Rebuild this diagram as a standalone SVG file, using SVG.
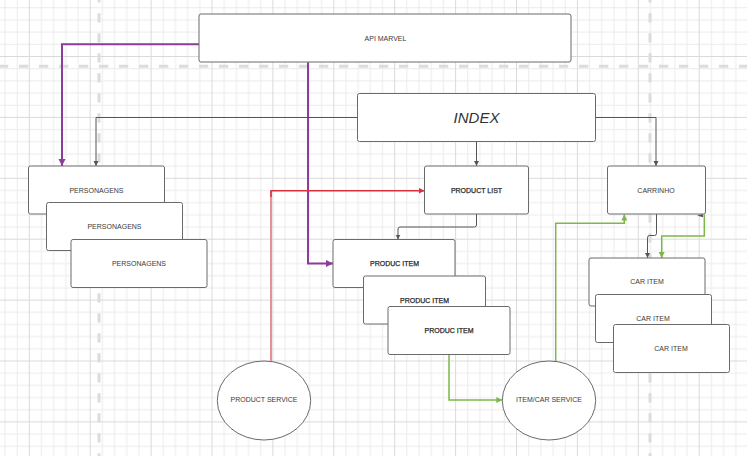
<svg xmlns="http://www.w3.org/2000/svg" width="747" height="456" viewBox="0 0 747 456">
<style>
.node rect,.node ellipse{fill:#fff;stroke:#6a6a6a;stroke-width:1}
.lbl{font-family:"Liberation Sans",Arial,sans-serif;font-size:7px;fill:#3a3a3a;text-anchor:middle}
.b{fill:#2a2a2a;stroke:#2a2a2a;stroke-width:0.25}
.big{font-size:15px;font-style:italic;fill:#333}
.c{fill:none}
.gray{stroke:#555;stroke-width:1}
.purple{stroke:#8a3d99;stroke-width:2}
.green{stroke:#7cb848;stroke-width:1.5}
.red{stroke:#d8303c;stroke-width:1.5}
.pink{stroke:#e8909a;stroke-width:2}
.dash{fill:none;stroke:#dcdcdc;stroke-width:3;stroke-dasharray:9.3 10.7}
</style>
<defs>
<pattern id="grid" patternUnits="userSpaceOnUse" x="28.8" y="56" width="60.9" height="60.9">
<rect x="12.18" y="0" width="1" height="60.9" fill="#ebebeb"/>
<rect x="24.36" y="0" width="1" height="60.9" fill="#ebebeb"/>
<rect x="36.54" y="0" width="1" height="60.9" fill="#ebebeb"/>
<rect x="48.72" y="0" width="1" height="60.9" fill="#ebebeb"/>
<rect x="0" y="12.18" width="60.9" height="1" fill="#ebebeb"/>
<rect x="0" y="24.36" width="60.9" height="1" fill="#ebebeb"/>
<rect x="0" y="36.54" width="60.9" height="1" fill="#ebebeb"/>
<rect x="0" y="48.72" width="60.9" height="1" fill="#ebebeb"/>
<rect x="0" y="0" width="1" height="60.9" fill="#dadada"/>
<rect x="0" y="0" width="60.9" height="1" fill="#dadada"/>
</pattern>
<marker id="aGray" markerUnits="userSpaceOnUse" markerWidth="6" markerHeight="6" refX="5" refY="2.5" orient="auto"><path d="M0,0 L5,2.5 L0,5 z" fill="#555"/></marker>
<marker id="aPurple" markerUnits="userSpaceOnUse" markerWidth="8" markerHeight="8" refX="7" refY="3.5" orient="auto"><path d="M0,0 L7,3.5 L0,7 z" fill="#8a3d99"/></marker>
<marker id="aGreen" markerUnits="userSpaceOnUse" markerWidth="8" markerHeight="8" refX="6" refY="3" orient="auto"><path d="M0,0 L6,3 L0,6 z" fill="#7cb848"/></marker>
<marker id="aRed" markerUnits="userSpaceOnUse" markerWidth="8" markerHeight="8" refX="6" refY="3" orient="auto"><path d="M0,0 L6,3 L0,6 z" fill="#d8303c"/></marker>
</defs>
<rect width="747" height="456" fill="#fff"/>
<rect width="747" height="456" fill="url(#grid)"/>
<g id="guides">
<path class="dash" d="M-1,66.3 H747"/>
<path class="dash" d="M99,-6.7 V456"/>
<path class="dash" d="M650,-6.7 V456"/>
</g>
<g id="connectors">
<path class="c purple" d="M199,44.3 H62 V166" marker-end="url(#aPurple)"/>
<path class="c purple" d="M308,62.3 V263.5 H333" marker-end="url(#aPurple)"/>
<path class="c gray" d="M357.5,117.5 H96 V166" marker-end="url(#aGray)"/>
<path class="c gray" d="M476.5,141.5 V166" marker-end="url(#aGray)"/>
<path class="c gray" d="M595.5,117.5 H656 V166" marker-end="url(#aGray)"/>
<path class="c gray" d="M476.5,214 V225 Q476.5,227 474.5,227 H400 Q398,227 398,229 V239.5" marker-end="url(#aGray)"/>
<path class="c gray" d="M656.5,214 V233.5 Q656.5,235.5 654.5,235.5 H649.5 Q647.5,235.5 647.5,237.5 V258" marker-end="url(#aGray)"/>
<path class="c green" d="M555.7,361 V223.3 H624.3 V214.5" marker-end="url(#aGreen)"/>
<path class="c green" d="M704.3,214.5 V236 H661.7 V258" marker-end="url(#aGreen)"/>
<path d="M697,215.6 L703,214 L703,217.2 z" fill="#555"/>
<path class="c green" d="M449,354.5 V400 H502.3" marker-end="url(#aGreen)"/>
<path class="c pink" d="M271,361 V191"/>
<path class="c red" d="M271,197 V190.7 H424.5" marker-end="url(#aRed)"/>
</g>
<g id="api-marvel" class="node"><rect x="199" y="14" width="372" height="48" rx="2"/><text class="lbl" x="385.5" y="40.5">API MARVEL</text></g>
<g id="index" class="node"><rect x="357.5" y="93.5" width="238" height="48" rx="2"/><text class="lbl big" x="476.5" y="122.5">INDEX</text></g>
<g id="personagens-1" class="node"><rect x="28.5" y="166" width="136" height="48" rx="2"/><text class="lbl" x="96.5" y="192.5">PERSONAGENS</text></g>
<g id="personagens-2" class="node"><rect x="46.5" y="202.5" width="136" height="48" rx="2"/><text class="lbl" x="114.5" y="228.5">PERSONAGENS</text></g>
<g id="personagens-3" class="node"><rect x="71" y="239.5" width="136" height="48" rx="2"/><text class="lbl" x="139" y="265.5">PERSONAGENS</text></g>
<g id="product-list" class="node"><rect x="424.5" y="166" width="104" height="48" rx="2"/><text class="lbl b" x="476.5" y="192.5">PRODUCT LIST</text></g>
<g id="produc-item-1" class="node"><rect x="333" y="239.5" width="122" height="48" rx="2"/><text class="lbl b" x="394.5" y="266">PRODUC ITEM</text></g>
<g id="produc-item-2" class="node"><rect x="363.5" y="276" width="122" height="48" rx="2"/><text class="lbl b" x="424.5" y="302.8">PRODUC ITEM</text></g>
<g id="produc-item-3" class="node"><rect x="388" y="306.5" width="122" height="48" rx="2"/><text class="lbl b" x="449" y="332.5">PRODUC ITEM</text></g>
<g id="carrinho" class="node"><rect x="607.5" y="166" width="98" height="48" rx="2"/><text class="lbl" x="656" y="192.5">CARRINHO</text></g>
<g id="car-item-1" class="node"><rect x="589" y="258" width="116" height="48" rx="2"/><text class="lbl" x="647" y="283.5">CAR ITEM</text></g>
<g id="car-item-2" class="node"><rect x="595.5" y="294.5" width="116" height="48" rx="2"/><text class="lbl" x="653" y="320.5">CAR ITEM</text></g>
<g id="car-item-3" class="node"><rect x="613.5" y="324.5" width="116" height="48" rx="2"/><text class="lbl" x="671" y="350.8">CAR ITEM</text></g>
<g id="product-service" class="node"><ellipse cx="264" cy="400.5" rx="46.7" ry="39.5"/><text class="lbl" x="264" y="401.8">PRODUCT SERVICE</text></g>
<g id="item-car-service" class="node"><ellipse cx="549" cy="400.5" rx="46.7" ry="39.5"/><text class="lbl" x="549" y="401.5">ITEM/CAR SERVICE</text></g>
</svg>
